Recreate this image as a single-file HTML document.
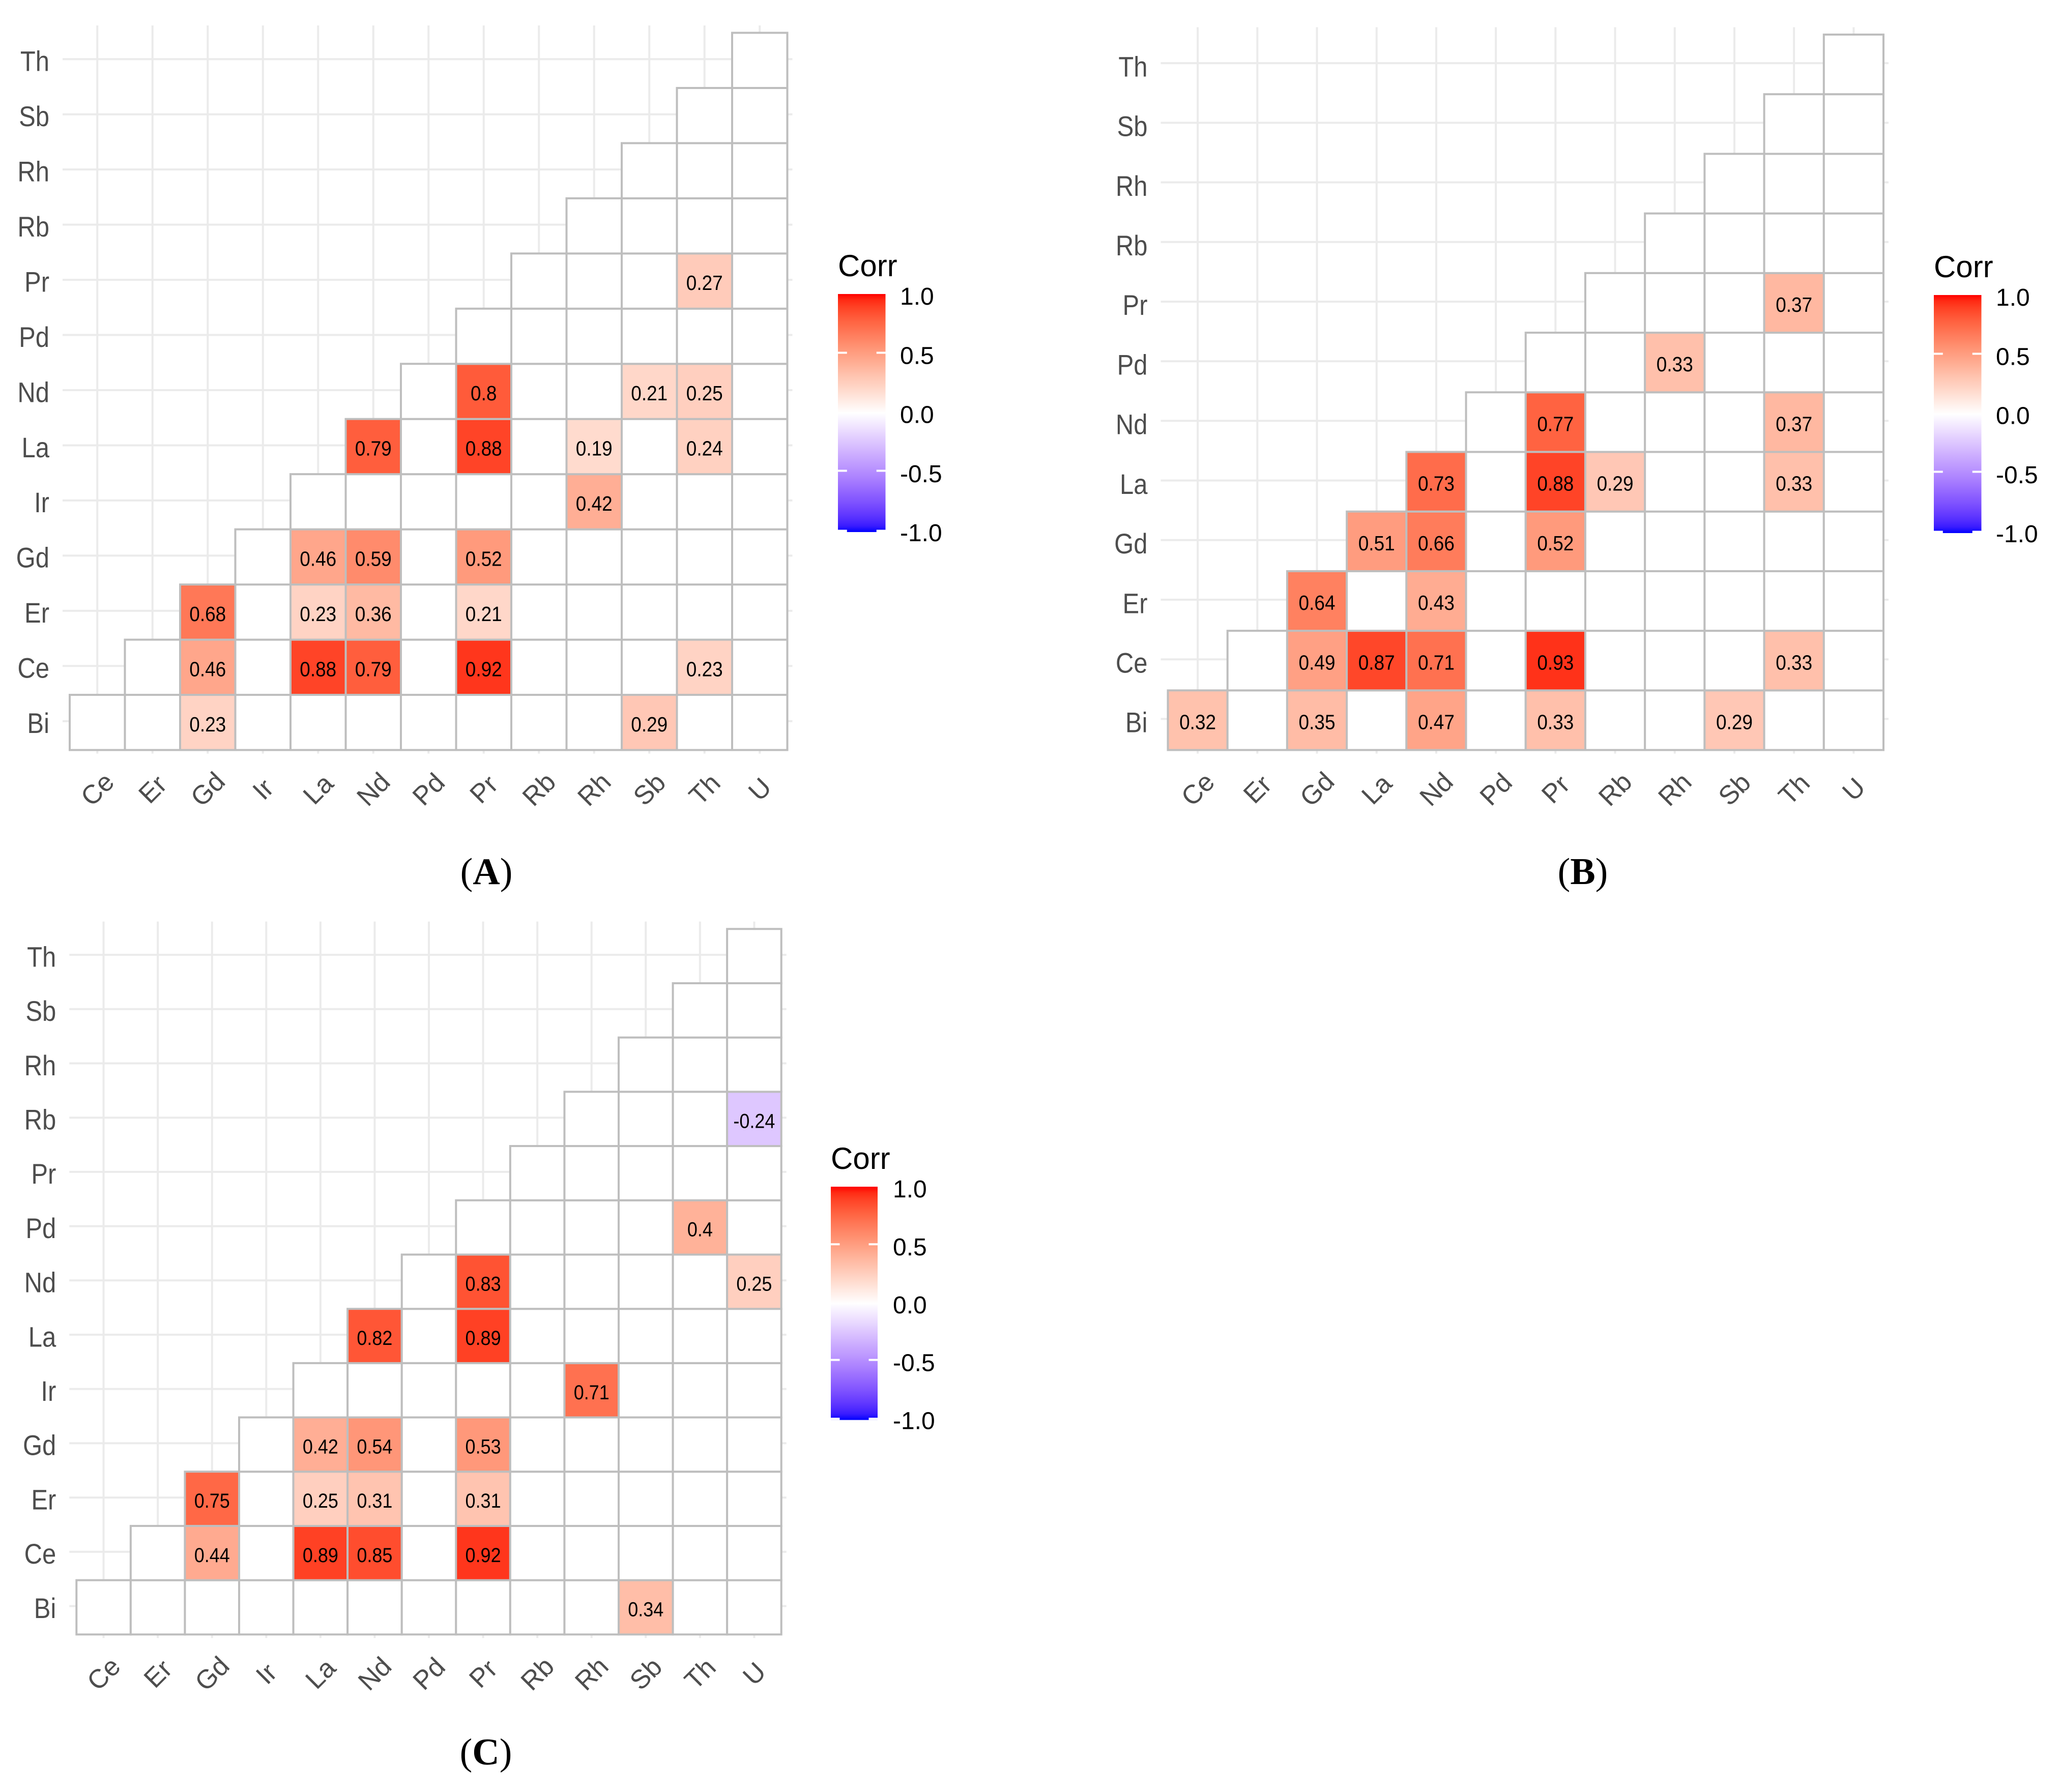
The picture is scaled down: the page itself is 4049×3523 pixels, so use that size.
<!DOCTYPE html>
<html lang="en">
<head>
<meta charset="utf-8">
<title>Correlation heatmaps A, B and C</title>
<style>
html,body{margin:0;padding:0;background:#fff;}
svg{display:block;}
text{font-family:"Liberation Sans",sans-serif;}
.serif{font-family:"Liberation Serif",serif;}
</style>
</head>
<body>
<svg id="figure" xmlns="http://www.w3.org/2000/svg" width="4049" height="3523" viewBox="0 0 4049 3523">
<rect x="0" y="0" width="4049" height="3523" fill="#ffffff"/>
<defs id="defs"></defs>
</svg>
<script>
// ---------- chart data ----------
const panelARows = ['Bi','Ce','Er','Gd','Ir','La','Nd','Pd','Pr','Rb','Rh','Sb','Th'];
const panelACols = ['Ce','Er','Gd','Ir','La','Nd','Pd','Pr','Rb','Rh','Sb','Th','U'];
const panelAValues = [
  [null,null,0.23,null,null,null,null,null,null,null,0.29,null,null],
  [null,null,0.46,null,0.88,0.79,null,0.92,null,null,null,0.23,null],
  [null,null,0.68,null,0.23,0.36,null,0.21,null,null,null,null,null],
  [null,null,null,null,0.46,0.59,null,0.52,null,null,null,null,null],
  [null,null,null,null,null,null,null,null,null,0.42,null,null,null],
  [null,null,null,null,null,0.79,null,0.88,null,0.19,null,0.24,null],
  [null,null,null,null,null,null,null,0.8,null,null,0.21,0.25,null],
  [null,null,null,null,null,null,null,null,null,null,null,null,null],
  [null,null,null,null,null,null,null,null,null,null,null,0.27,null],
  [null,null,null,null,null,null,null,null,null,null,null,null,null],
  [null,null,null,null,null,null,null,null,null,null,null,null,null],
  [null,null,null,null,null,null,null,null,null,null,null,null,null],
  [null,null,null,null,null,null,null,null,null,null,null,null,null]
];
const panelBRows = ['Bi','Ce','Er','Gd','La','Nd','Pd','Pr','Rb','Rh','Sb','Th'];
const panelBCols = ['Ce','Er','Gd','La','Nd','Pd','Pr','Rb','Rh','Sb','Th','U'];
const panelBValues = [
  [0.32,null,0.35,null,0.47,null,0.33,null,null,0.29,null,null],
  [null,null,0.49,0.87,0.71,null,0.93,null,null,null,0.33,null],
  [null,null,0.64,null,0.43,null,null,null,null,null,null,null],
  [null,null,null,0.51,0.66,null,0.52,null,null,null,null,null],
  [null,null,null,null,0.73,null,0.88,0.29,null,null,0.33,null],
  [null,null,null,null,null,null,0.77,null,null,null,0.37,null],
  [null,null,null,null,null,null,null,null,0.33,null,null,null],
  [null,null,null,null,null,null,null,null,null,null,0.37,null],
  [null,null,null,null,null,null,null,null,null,null,null,null],
  [null,null,null,null,null,null,null,null,null,null,null,null],
  [null,null,null,null,null,null,null,null,null,null,null,null],
  [null,null,null,null,null,null,null,null,null,null,null,null]
];
const panelCRows = ['Bi','Ce','Er','Gd','Ir','La','Nd','Pd','Pr','Rb','Rh','Sb','Th'];
const panelCCols = ['Ce','Er','Gd','Ir','La','Nd','Pd','Pr','Rb','Rh','Sb','Th','U'];
const panelCValues = [
  [null,null,null,null,null,null,null,null,null,null,0.34,null,null],
  [null,null,0.44,null,0.89,0.85,null,0.92,null,null,null,null,null],
  [null,null,0.75,null,0.25,0.31,null,0.31,null,null,null,null,null],
  [null,null,null,null,0.42,0.54,null,0.53,null,null,null,null,null],
  [null,null,null,null,null,null,null,null,null,0.71,null,null,null],
  [null,null,null,null,null,0.82,null,0.89,null,null,null,null,null],
  [null,null,null,null,null,null,null,0.83,null,null,null,null,0.25],
  [null,null,null,null,null,null,null,null,null,null,null,0.4,null],
  [null,null,null,null,null,null,null,null,null,null,null,null,null],
  [null,null,null,null,null,null,null,null,null,null,null,null,-0.24],
  [null,null,null,null,null,null,null,null,null,null,null,null,null],
  [null,null,null,null,null,null,null,null,null,null,null,null,null],
  [null,null,null,null,null,null,null,null,null,null,null,null,null]
];
const legendTicks = [1.0,0.5,0.0,-0.5,-1.0];
const legendTickLabels = ['1.0','0.5','0.0','-0.5','-1.0'];

// ---------- helpers ----------
const NS = 'http://www.w3.org/2000/svg';
const svg = document.getElementById('figure');
const defs = document.getElementById('defs');
function make(tag, attrs, parent){
  const e = document.createElementNS(NS, tag);
  for (const k in attrs) e.setAttribute(k, attrs[k]);
  (parent || svg).appendChild(e);
  return e;
}
// ggplot-style diverging gradient, interpolated in Lab space
const LAB_HIGH = [53.24,80.09,67.2];
const LAB_MID = [100,0,0];
const LAB_LOW = [32.3,79.19,-107.86];
function labToRgb(L,a,b){
  const fy=(L+16)/116, fx=fy+a/500, fz=fy-b/200;
  const g=t=>t>0.206897?t*t*t:(t-16/116)/7.787;
  const X=0.95047*g(fx), Y=g(fy), Z=1.08883*g(fz);
  const lin=[3.2406*X-1.5372*Y-0.4986*Z,-0.9689*X+1.8758*Y+0.0415*Z,0.0557*X-0.2040*Y+1.0570*Z];
  const ch=lin.map(c=>{
    c=Math.max(0,Math.min(1,c));
    const s=c<=0.0031308?12.92*c:1.055*Math.pow(c,1/2.4)-0.055;
    return Math.round(s*255);
  });
  return 'rgb('+ch[0]+','+ch[1]+','+ch[2]+')';
}
function corrColor(v){
  const end=v>=0?LAB_HIGH:LAB_LOW, t=Math.abs(v);
  return labToRgb(LAB_MID[0]+(end[0]-LAB_MID[0])*t,LAB_MID[1]+(end[1]-LAB_MID[1])*t,LAB_MID[2]+(end[2]-LAB_MID[2])*t);
}

function drawPanel(id,rows,cols,values,box){
  const group=make('g',{});
  
  
  const cw=(box.right-box.left)/cols.length, rh=(box.bottom-box.top)/rows.length;
  const xScale=i=>box.left+cw*(i+0.5);
  const yScale=i=>box.bottom-rh*(i+0.5);
  // grid
  cols.forEach((c,i)=>{
    const g=make('line',{x1:xScale(i),x2:xScale(i),y1:box.top-14.5,y2:box.bottom+7,stroke:'#ebebeb','stroke-width':4},group);
    
    
  });
  rows.forEach((r,i)=>{
    const g=make('line',{x1:box.left-14,x2:box.right+10,y1:yScale(i)-2.5,y2:yScale(i)-2.5,stroke:'#ebebeb','stroke-width':4},group);
    
    
  });
  // cells
  rows.forEach((r,ri)=>{
    cols.forEach((c,ci)=>{
      if(ci<ri) return;
      const v=values[ri][ci];
      const cell=make('rect',{x:box.left+cw*ci,y:box.bottom-rh*(ri+1),width:cw,height:rh,
        fill:v===null?'#ffffff':corrColor(v),stroke:'#bebebe','stroke-width':4},group);
      
      
    });
  });
  // printed values, above every cell outline
  rows.forEach((r,ri)=>{
    cols.forEach((c,ci)=>{
      const v=values[ri][ci];
      if(v===null) return;
      const t=make('text',{transform:'translate('+xScale(ci)+' '+(yScale(ri)+3+14.6)+') scale(1 1.1)','text-anchor':'middle','font-size':box.valueSize,fill:'#000000'},group);
      t.textContent=String(v);
      
      
    });
  });
  // axis labels
  rows.forEach((r,i)=>{
    const t=make('text',{transform:'translate('+(box.left-40)+' '+(yScale(i)+box.labelDy+19.8)+') scale(1 1.13)','text-anchor':'end','font-size':49,fill:'#4d4d4d'},group);
    t.textContent=r;
    
    
  });
  cols.forEach((c,i)=>{
    const cx=xScale(i), cy=box.bottom+77;
    const t=make('text',{x:cx,y:cy+18,'text-anchor':'middle','font-size':52,fill:'#4d4d4d',transform:'rotate(-45 '+cx+' '+cy+')'},group);
    t.textContent=c;
    
    
  });
}

function drawLegend(id,lg){
  const group=make('g',{});
  
  
  const title=make('text',{x:lg.x,y:lg.top-35,'font-size':60,fill:'#000000'},group);
  title.textContent='Corr';
  
  
  const gradId='grad-'+id;
  const grad=make('linearGradient',{id:gradId,x1:0,y1:0,x2:0,y2:1},defs);
  for(let i=0;i<=40;i++){
    make('stop',{offset:(i/40),'stop-color':corrColor(1-i/20)},grad);
  }
  const bw=lg.width, bh=468*lg.s;
  const bar=make('rect',{x:lg.x,y:lg.top,width:bw,height:bh,fill:'url(#'+gradId+')'},group);
  
  
  const tickY=v=>lg.top+lg.s*(231.5-232*v);
  const labelY=v=>lg.top+lg.s*(235.5-232.5*v);
  legendTicks.forEach((v,i)=>{
    const y=tickY(v);
    if(v!==1 && v!==0){
      const hgt=v===-1?(lg.top+bh-y):4, ty=v===-1?y:y-2;
      const tl=make('rect',{x:lg.x,y:ty,width:bw*0.19,height:hgt,fill:'#ffffff'},group);
      
      
      const tr=make('rect',{x:lg.x+bw*0.81,y:ty,width:bw*0.19,height:hgt,fill:'#ffffff'},group);
      
      
    }
    const lbl=make('text',{x:lg.x+122,y:labelY(v)+18,'font-size':48,fill:'#000000'},group);
    lbl.textContent=legendTickLabels[i];
    
    
  });
}

function drawCaption(letter,cx,baseline){
  const t=make('text',{x:cx,y:baseline,'text-anchor':'middle','font-size':74,fill:'#000000',class:'serif'});
  const a=make('tspan',{},t); a.textContent='(';
  const b=make('tspan',{'font-weight':'bold'},t); b.textContent=letter;
  const c=make('tspan',{},t); c.textContent=')';
  
  
}

drawPanel('a',panelARows,panelACols,panelAValues,{left:137,right:1547.5,top:64.5,bottom:1474.5,labelDy:1,valueSize:37});
drawPanel('b',panelBRows,panelBCols,panelBValues,{left:2295.5,right:3702,top:68,bottom:1474.5,labelDy:4,valueSize:37});
drawPanel('c',panelCRows,panelCCols,panelCValues,{left:150.3,right:1535.7,top:1826.3,bottom:3213.3,labelDy:1,valueSize:36});
drawLegend('a',{x:1647,top:578,width:93.5,s:1});
drawLegend('b',{x:3801,top:580,width:93.5,s:1});
drawLegend('c',{x:1633,top:2333,width:92,s:0.98});
drawCaption('A',956,1738);
drawCaption('B',3111,1738);
drawCaption('C',955,3469);
</script>
</body>
</html>
